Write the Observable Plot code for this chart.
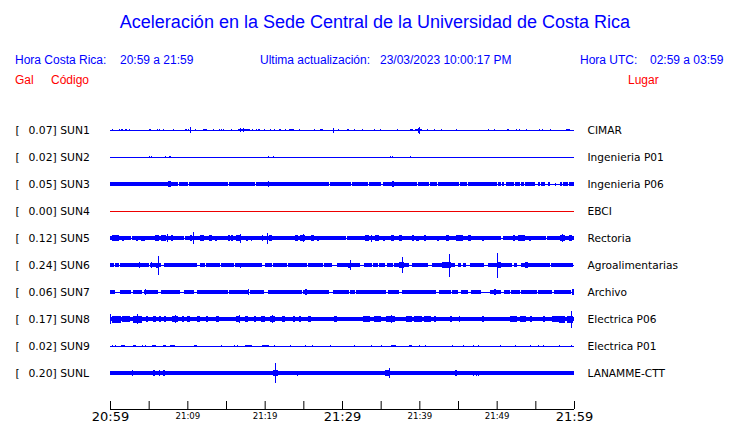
<!DOCTYPE html>
<html><head><meta charset="utf-8">
<script src="https://cdn.jsdelivr.net/npm/d3@7"></script>
<script src="https://cdn.jsdelivr.net/npm/@observablehq/plot@0.6"></script>
<style>
body{margin:0;background:#fff;}
#wrap{position:relative;width:740px;height:423px;overflow:hidden;font-family:"Liberation Sans",Arial,sans-serif;}
.h{position:absolute;white-space:pre;line-height:1;font-size:12px;}
.blue{color:#0000ff;}
.red{color:#ff0000;}
#chart{position:absolute;left:0;top:0;}
</style></head><body>
<div id="wrap"><div id="chart"></div></div>
<script>
// ---- header texts ----
const titleText = "Aceleración en la Sede Central de la Universidad de Costa Rica";
const headerTexts = ["Hora Costa Rica:", "20:59 a 21:59", "Ultima actualización:", "23/03/2023 10:00:17 PM", "Hora UTC:", "02:59 a 03:59"];
const columnTexts = ["Gal", "Código", "Lugar"];

// ---- stations ----
const codes = ["SUN1","SUN2","SUN3","SUN4","SUN5","SUN6","SUN7","SUN8","SUN9","SUNL"];
const galValues = ["0.07","0.02","0.05","0.00","0.12","0.24","0.06","0.17","0.02","0.20"];
const places = ["CIMAR","Ingenieria P01","Ingenieria P06","EBCI","Rectoria","Agroalimentarias","Archivo","Electrica P06","Electrica P01","LANAMME-CTT"];
// background noise half-amplitude of each trace
const baseAmp = [0.6, 0.6, 1.7, 0.6, 1.9, 1.7, 1.6, 2.1, 0.6, 2.0];

// minutes after 20:59 where the background noise is quiet  [start, end]
const sun1Quiet = [], sun2Quiet = [], sun4Quiet = [], sun9Quiet = [];
const sun3Quiet = [[8.85,8.95],[10.15,10.25],[15.25,15.35],[18.75,18.85],[28.35,28.45],[31.15,31.25],[33.35,33.45],[35.1,35.3],[39.75,39.85],[41.25,41.35],[42.25,42.35],[43.65,43.75],[45.15,45.25],[46.15,46.25],[47.55,47.65],[50.0,50.2],[50.5,50.7],[50.9,51.2],[52.3,52.4],[53.0,53.1],[53.5,53.6],[55.0,55.3],[55.6,55.7],[56.3,56.7],[56.9,58.2],[58.4,58.6],[58.8,58.9],[59.2,59.4],[59.7,59.8]];
const sun5Quiet = [[2.7,2.9],[9.6,9.7],[28.4,28.5],[30.5,30.6],[50.6,50.8],[56.4,56.5]];
const sun6Quiet = [[0.5,0.7],[1.1,1.3],[5.0,5.2],[6.6,7.0],[11.3,11.6],[12.3,12.4],[14.2,14.3],[16.0,16.1],[19.7,20.0],[21.0,21.1],[22.9,23.0],[25.5,25.6],[27.6,27.7],[28.7,29.3],[32.3,32.8],[33.9,34.0],[34.7,34.8],[35.6,35.8],[36.6,36.7],[38.6,39.1],[40.3,40.4],[41.1,41.7],[44.6,45.0],[45.4,45.7],[46.0,46.5],[48.3,48.9],[52.0,52.3],[52.6,53.2],[56.9,57.0],[59.9,60.0]];
const sun7Quiet = [[0.3,1.3],[2.7,3.0],[4.2,4.6],[6.2,6.6],[9.0,9.6],[10.8,11.3],[15.3,15.4],[17.9,18.1],[19.9,20.4],[21.8,22.0],[24.8,25.0],[28.3,28.8],[30.9,31.0],[31.7,31.8],[35.7,35.9],[37.4,37.8],[42.2,42.6],[43.4,43.5],[44.1,44.2],[45.0,45.4],[46.3,46.7],[48.0,49.1],[50.5,50.9],[51.7,51.8],[53.0,53.1],[55.2,55.3],[57.2,57.4],[59.6,59.8]];
const sun8Quiet = [];
const sunLQuiet = [];

// bursts: [minute, half amplitude, duration in minutes]
const sun1Events = [[0.3,1.0,0],[1.1,1.2,0],[1.4,1.2,0],[1.6,1.2,0],[2.0,1.3,0.15],[2.4,1.3,0],[5.1,1.2,0.2],[6.1,1.2,0],[6.4,1.2,0],[6.9,1.2,0],[8.1,1.0,0],[9.7,1.3,0.25],[10.1,1.3,0.15],[10.4,3.3,0],[10.95,1.3,0],[12.0,1.3,0.55],[13.3,1.0,0],[14.1,1.2,0],[14.3,1.2,0],[14.55,1.3,0.2],[15.6,1.3,0.15],[16.6,1.3,1.45],[16.8,2.3,0],[17.2,2.3,0],[18.4,1.2,0],[18.9,1.2,0],[19.2,1.3,0.15],[19.9,1.3,0.15],[20.7,1.2,0],[21.2,1.2,0],[21.9,1.3,0.15],[22.6,1.3,0.2],[23.2,1.3,0.55],[24.5,1.0,0],[26.4,1.0,0],[27.2,1.3,0.35],[28.8,2.5,0],[29.5,1.2,0],[30.6,1.3,0.3],[31.5,1.2,0],[32.6,1.0,0],[34.1,1.2,0],[34.9,1.0,0],[37.1,1.0,0],[38.8,1.3,0.35],[39.4,1.3,0.9],[39.8,2.5,0.1],[40.0,3.5,0.1],[41.0,1.0,0],[41.9,1.2,0],[42.8,1.0,0],[44.8,1.0,0],[48.9,1.2,0],[49.6,1.0,0],[51.3,1.3,0.25],[52.5,1.2,0],[52.9,1.0,0],[53.8,1.0,0],[55.5,1.2,0],[55.9,1.2,0],[56.9,1.0,0],[59.0,1.3,0.45]];
const sun2Events = [[5.0,1.0,0],[5.3,1.0,0],[7.05,1.3,0.1],[7.6,1.4,0.25],[20.4,1.4,0.15],[21.1,1.4,0.15],[36.2,1.3,0.1],[36.5,1.4,0.15],[38.8,0.9,0]];
const sun3Events = [[7.5,2.6,0.4],[20.4,3.0,0],[36.5,2.6,0.2],[57.6,1.5,0.1]];
const sun4Events = [];
const sun5Events = [[0.2,3.0,0.9],[1.5,2.5,0.3],[3.3,2.5,0.3],[4.0,2.5,0.5],[5.8,3.0,0.5],[6.6,3.0,0.6],[7.4,3.8,0.1],[7.9,2.8,0.3],[10.3,3.0,0.3],[10.7,5.6,0.1],[11.7,2.8,0.5],[12.8,2.8,0.4],[13.6,2.5,0.2],[15.2,3.0,0.3],[15.7,3.0,0.2],[16.3,3.0,0.7],[16.8,4.5,0.1],[17.6,2.5,0.3],[18.2,2.5,0.2],[19.6,2.8,0.2],[20.3,5.5,0.1],[20.6,2.8,0.4],[23.9,2.8,0.4],[24.6,3.0,0.6],[25.0,4.0,0.1],[26.0,2.8,0.4],[26.8,2.5,0.2],[33.0,3.2,0.5],[33.7,3.5,0.2],[34.3,2.8,0.5],[35.3,2.5,0.3],[36.3,3.2,0.4],[37.4,2.8,0.3],[39.1,3.0,0.2],[39.6,2.5,0.3],[40.6,2.8,0.3],[42.3,2.5,0.3],[43.5,2.8,0.3],[44.7,3.3,1.0],[46.3,2.8,0.4],[48.1,2.5,0.3],[52.1,3.0,0.3],[52.8,3.2,0.9],[54.2,2.5,0.2],[58.2,2.8,0.6],[58.5,3.8,0.1],[59.3,2.8,0.5]];
const sun6Events = [[3.7,3.3,0.2],[5.3,2.8,0],[5.9,2.5,0.4],[6.15,9.5,0],[10.8,2.2,0.2],[16.8,2.5,0],[23.8,2.4,0.4],[30.8,2.5,0.4],[31.0,5.2,0],[37.4,2.6,0.6],[37.7,7.8,0],[42.9,2.9,1.2],[43.9,11.5,0],[50.0,2.9,0.5],[50.1,12.5,0],[53.6,2.9,0.4],[59.7,1.8,0]];
const sun7Events = [[0.3,2.2,0.3],[4.4,2.4,0.3],[4.5,3.0,0],[8.2,2.2,0.3],[12.1,2.2,0.3],[17.8,2.6,0],[21.8,2.2,0],[25.2,2.8,0.25],[38.0,2.2,0],[49.6,2.6,0.3],[59.8,3.3,0.25]];
const sun8Events = [[0.0,5.0,0.1],[0.2,3.5,1.2],[1.6,3.0,1.0],[3.0,3.5,1.2],[3.5,4.8,0.1],[4.6,3.0,0.3],[5.6,3.0,0.4],[6.3,2.8,0.3],[7.0,3.0,0.3],[8.0,3.0,0.8],[8.4,4.2,0.1],[9.3,2.8,0.3],[10.0,2.7,0.3],[11.3,2.7,0.3],[12.4,2.7,0.3],[13.7,2.7,0.4],[16.3,3.0,0.5],[16.7,3.8,0.1],[17.4,2.8,0.4],[18.6,2.7,0.3],[19.5,2.8,0.5],[20.7,3.0,0.6],[21.0,3.6,0.1],[22.2,2.8,0.4],[23.6,2.7,0.3],[24.4,2.7,0.3],[25.6,2.8,0.4],[29.0,2.8,0.4],[32.7,3.0,0.9],[34.2,2.8,0.8],[35.7,3.0,1.2],[36.4,3.8,0.1],[38.3,3.0,0.7],[39.3,3.0,1.0],[40.6,3.0,0.9],[41.9,2.8,0.3],[44.0,2.8,0.2],[45.1,2.7,0.2],[48.1,2.7,0.2],[51.7,3.0,0.9],[53.0,2.8,0.8],[54.3,3.0,0.3],[56.0,2.7,0.2],[57.1,3.3,0.9],[58.1,3.5,0.8],[59.1,3.5,0.8],[59.6,8.5,0.1]];
const sun9Events = [[0.2,1.3,0],[0.7,1.3,0],[1.4,1.3,0.55],[3.0,1.3,0.4],[4.1,1.3,0],[4.5,1.3,0],[5.4,1.3,0.6],[6.9,1.3,0.4],[7.8,1.3,0.6],[10.8,1.3,0.4],[14.3,1.2,0],[16.0,1.2,0],[16.4,1.3,0],[17.5,1.3,0.8],[19.7,1.3,0.8],[21.2,1.3,0],[23.3,1.2,0],[25.2,1.2,0],[26.1,1.2,0],[28.4,1.2,0],[31.6,1.2,0],[33.8,1.2,0],[35.1,1.2,0],[36.4,1.3,0.6],[38.7,1.3,0.4],[40.0,1.2,0],[40.7,1.3,0.2],[44.2,1.2,0],[45.7,1.2,0],[47.0,1.2,0],[47.6,1.3,0],[50.4,1.2,0],[52.4,1.2,0],[54.3,1.2,0],[55.4,1.2,0],[56.0,1.2,0],[58.1,1.2,0],[59.6,1.4,0.2]];
const sunLEvents = [[2.8,2.6,0],[5.6,2.8,0.2],[6.3,2.6,0.2],[6.9,2.8,0.2],[9.3,2.3,0],[11.0,2.3,0],[11.9,2.3,0],[12.8,2.3,0],[13.6,2.3,0],[15.3,2.3,0],[16.6,2.3,0],[17.4,2.3,0],[18.1,2.3,0],[19.6,2.3,0],[20.6,2.3,0],[21.1,3.0,0.6],[21.4,10.0,0],[24.2,2.5,0],[26.8,2.3,0],[28.3,2.3,0],[30.0,2.3,0],[35.6,2.8,0.6],[36.1,5.3,0],[38.3,2.3,0],[41.1,2.3,0],[43.1,2.3,0],[44.6,2.6,0.3],[47.0,2.5,0.1],[47.3,2.5,0.1],[47.6,2.5,0.1],[51.0,2.3,0],[53.6,2.3,0],[55.3,2.3,0],[56.0,2.3,0],[56.7,2.3,0]];

// ---- time axis ----
const tickMinutes = [0,5,10,15,20,25,30,35,40,45,50,55,60];
const bigTickMinutes = [0,30,60];
const bigTickLabels = ["20:59","21:29","21:59"];
const smallTickMinutes = [10,20,40,50];
const smallTickLabels = ["21:09","21:19","21:39","21:49"];

const quietLists = [sun1Quiet,sun2Quiet,sun3Quiet,sun4Quiet,sun5Quiet,sun6Quiet,sun7Quiet,sun8Quiet,sun9Quiet,sunLQuiet];
const eventLists = [sun1Events,sun2Events,sun3Events,sun4Events,sun5Events,sun6Events,sun7Events,sun8Events,sun9Events,sunLEvents];

// ---- build tables ----
const LANE = 27, T0 = 0, T1 = 60, MINW = 0.13;
const stations = codes.map((code, i) => ({
  code, gal: galValues[i], place: places[i], lane: i * LANE,
  color: galValues[i] === "0.00" ? "#ee0000" : "#0000ff"
}));
const rects = [];
stations.forEach((s, i) => {
  const c = s.lane;
  rects.push({x1: T0, x2: T1, y1: c - 0.5, y2: c + 0.5, color: s.color});
  const b = baseAmp[i];
  if (b > 0.6) {
    let start = T0;
    quietLists[i].slice().sort((a, q) => a[0] - q[0]).forEach(([a, e]) => {
      if (a > start) rects.push({x1: start, x2: a, y1: c - b, y2: c + b, color: s.color});
      start = e;
    });
    if (start < T1) rects.push({x1: start, x2: T1, y1: c - b, y2: c + b, color: s.color});
  }
  eventLists[i].forEach(([t, amp, dur]) => {
    rects.push({x1: t, x2: Math.min(T1, t + Math.max(dur, MINW)), y1: c - amp, y2: c + amp, color: s.color});
  });
});

const font = "DejaVu Sans";
const chart = Plot.plot({
  width: 740, height: 423,
  marginLeft: 0, marginRight: 0, marginTop: 0, marginBottom: 0,
  x: {domain: [0, 60], range: [110, 574], axis: null},
  y: {domain: [0, 279], range: [130, 409], axis: null},
  color: {type: "identity"},
  style: {background: "white"},
  marks: [
    Plot.rect(rects, {x1: "x1", x2: "x2", y1: "y1", y2: "y2", fill: "color", shapeRendering: "crispEdges"}),
    Plot.text(stations, {x: 0, y: "lane", text: () => "[", dx: -95, textAnchor: "start", fontFamily: font, fontSize: 10.8, fill: "black"}),
    Plot.text(stations, {x: 0, y: "lane", text: d => d.gal + "] " + d.code, dx: -82, textAnchor: "start", fontFamily: font, fontSize: 10.8, fill: "black"}),
    Plot.text(stations, {x: 60, y: "lane", text: "place", dx: 13, textAnchor: "start", fontFamily: font, fontSize: 10.6, fill: "black"}),
    Plot.ruleY([279], {x1: 0, x2: 60, stroke: "black"}),
    Plot.ruleX(tickMinutes, {x: d => d, y1: 271, y2: 279, stroke: "black"}),
    Plot.text(bigTickMinutes, {x: d => d, y: 279, text: (d, i) => bigTickLabels[i], lineAnchor: "top", dy: 2, fontFamily: font, fontSize: 13, fill: "black"}),
    Plot.text(smallTickMinutes, {x: d => d, y: 279, text: (d, i) => smallTickLabels[i], lineAnchor: "top", dy: 3, fontFamily: font, fontSize: 8.6, fill: "black"})
  ]
});
document.getElementById("chart").appendChild(chart);

// ---- header html ----
const wrap = document.getElementById("wrap");
function addText(txt, cls, left, top, size, extra) {
  const d = document.createElement("div");
  d.className = "h " + cls;
  d.textContent = txt;
  d.style.left = left + "px"; d.style.top = top + "px";
  if (size) d.style.fontSize = size + "px";
  if (extra) Object.assign(d.style, extra);
  wrap.appendChild(d);
}
addText(titleText, "blue", 0, 13, 18, {width: "740px", textAlign: "center", left: "5px"});
const headerX = [15, 120, 260, 380, 580, 650];
headerTexts.forEach((t, i) => addText(t, "blue", headerX[i], 54));
const columnX = [15, 51, 628];
columnTexts.forEach((t, i) => addText(t, "red", columnX[i], 74));
</script>
</body></html>
